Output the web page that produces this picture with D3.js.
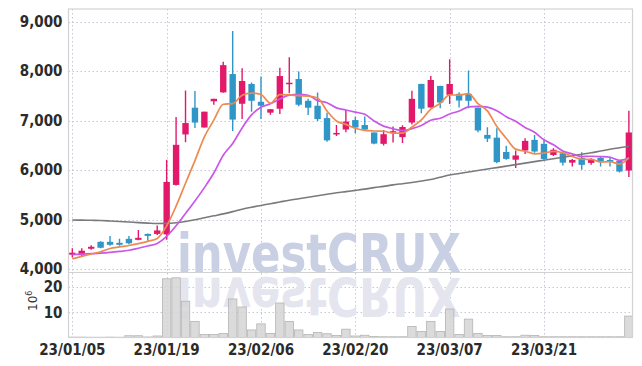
<!DOCTYPE html>
<html><head><meta charset="utf-8">
<script src="https://cdn.jsdelivr.net/npm/d3@7"></script>
<style>body{margin:0;background:#fff;} svg{display:block;}</style>
</head><body><svg id="c" width="642" height="366"></svg>
<script>
const dates = ["23/01/05","23/01/06","23/01/09","23/01/10","23/01/11","23/01/12","23/01/13","23/01/16","23/01/17","23/01/18",
"23/01/19","23/01/20","23/01/25","23/01/26","23/01/27","23/01/30","23/01/31","23/02/01","23/02/02","23/02/03",
"23/02/06","23/02/07","23/02/08","23/02/09","23/02/10","23/02/13","23/02/14","23/02/15","23/02/16","23/02/17",
"23/02/20","23/02/21","23/02/22","23/02/23","23/02/24","23/02/27","23/02/28","23/03/02","23/03/03","23/03/06",
"23/03/07","23/03/08","23/03/09","23/03/10","23/03/13","23/03/14","23/03/15","23/03/16","23/03/17","23/03/20",
"23/03/21","23/03/22","23/03/23","23/03/24","23/03/27","23/03/28","23/03/29","23/03/30","23/03/31","23/04/03"];
const openP = [4290,4280,4410,4550,4550,4530,4610,4590,4710,4710,4700,5700,6720,7260,6860,7390,7570,7940,7340,7740,
7380,7160,7240,7745,7840,7400,7300,7050,6720,6820,7010,6910,6760,6530,6755,6665,6960,7740,7265,7700,
7520,7540,7540,7260,6710,6655,6365,6210,6395,6610,6530,6305,6340,6150,6250,6145,6245,6205,6185,5990];
const highP = [4420,4420,4480,4560,4670,4610,4670,4790,4720,4880,6210,7070,7610,7600,7180,7440,8190,8810,8060,7770,
7890,7235,8070,8280,7990,7440,7570,7160,6910,7215,7080,7080,6760,6810,6880,6905,7605,7745,7900,7705,
8240,7575,8010,7265,6865,6845,6490,6395,6645,6710,6625,6440,6375,6225,6360,6240,6275,6270,6200,7200];
const lowP = [4240,4250,4390,4420,4470,4470,4500,4580,4570,4690,4590,5690,6560,6850,6860,7320,7560,6790,7030,7180,
7030,7120,7135,7550,7290,7115,6990,6570,6690,6765,6745,6810,6520,6495,6555,6545,6920,7150,7260,7250,
7335,7265,7250,6765,6565,6140,6210,6040,6325,6350,6205,6285,6090,6070,6005,6105,6070,6070,5950,5860];
const closeP = [4330,4370,4450,4430,4490,4490,4520,4630,4670,4780,5760,6510,6950,6960,7180,7440,8120,7020,7800,7400,
7300,7230,7900,7765,7320,7260,7030,6600,6750,6980,6860,6820,6535,6725,6785,6870,7440,7240,7820,7365,
7740,7405,7400,6800,6635,6160,6225,6295,6590,6375,6225,6410,6150,6205,6105,6205,6160,6165,5970,6760];
const volumeM = [0.15,0.15,0.1,0.1,0.15,0.1,0.7,0.7,0.2,0.6,23.3,23.7,14.4,6.4,1.2,1.2,1.6,15.3,12.1,3.0,
5.4,1.6,13.7,6.4,3.0,1.2,2.0,1.5,0.8,3.3,0.6,0.9,0.4,0.3,0.3,0.3,4.4,2.4,6.4,2.4,
11.3,1.2,7.3,1.6,0.8,0.8,0.3,0.3,0.9,0.8,0.3,0.3,0.3,0.3,0.3,0.3,0.3,0.3,0.3,8.5];
const ma5 = [4206,4256,4303,4350,4414,4446,4476,4512,4560,4618,4872,5270,5734,6192,6672,7008,7330,7344,7512,7556,
7528,7350,7526,7519,7503,7495,7455,7195,6992,6924,6844,6802,6789,6784,6745,6747,6871,7012,7231,7347,
7521,7514,7546,7342,7196,6880,6644,6423,6381,6329,6342,6379,6350,6273,6219,6215,6165,6168,6121,6252];
const ma10 = [4290,4300,4310,4320,4335,4355,4380,4420,4465,4516,4659,4873,5123,5376,5645,5940,6300,6539,6852,7114,
7268,7340,7435,7516,7530,7512,7403,7361,7256,7214,7170,7129,6992,6888,6835,6796,6837,6901,7008,7046,
7134,7193,7279,7287,7272,7201,7079,6985,6862,6763,6611,6512,6387,6327,6274,6279,6272,6259,6197,6236];
const ma60 = [4990,4988,4985,4980,4972,4962,4950,4938,4928,4920,4922,4935,4960,4995,5035,5075,5115,5160,5210,5250,
5285,5320,5355,5390,5420,5450,5480,5510,5540,5565,5590,5615,5645,5670,5700,5725,5750,5778,5810,5855,
5900,5930,5960,5990,6020,6050,6080,6110,6140,6170,6200,6230,6260,6290,6320,6350,6385,6420,6450,6480];
const priceTicks = [4000,5000,6000,7000,8000,9000];
const volumeTicks = [10,20];
const dateTicks = ["23/01/05","23/01/19","23/02/06","23/02/20","23/03/07","23/03/21"];

const rows = dates.map((d,i)=>({d, o:openP[i], h:highP[i], l:lowP[i], c:closeP[i], v:volumeM[i], m5:ma5[i], m10:ma10[i], m60:ma60[i]}));

const L = 68.5, R = 632.5, T = 9, MID = 272, B = 337.5;
const svg = d3.select("#c");
const x = d3.scaleBand().domain(dates).range([67.6, 633.6]).padding(0);
const cx = d => x(d) + x.bandwidth()/2;
const y = d3.scaleLinear().domain([3940, 9255]).range([MID, T]);
const yv = d3.scaleLinear().domain([0, 26]).range([B, MID]);

const defs = svg.append("defs");
defs.append("clipPath").attr("id","plot").append("rect").attr("x",L).attr("y",T).attr("width",R-L).attr("height",B-T);
defs.append("clipPath").attr("id","pp").append("rect").attr("x",L).attr("y",T).attr("width",R-L).attr("height",MID-T);
defs.append("clipPath").attr("id","vp").append("rect").attr("x",L).attr("y",MID).attr("width",R-L).attr("height",B-MID);

const fontF = "'Liberation Sans Narrow','DejaVu Sans Condensed','Roboto Condensed',sans-serif";
const gridC = "#c3c7d8";

// grid
const grid = svg.append("g").attr("stroke", gridC).attr("stroke-width",1).attr("stroke-dasharray","1.5,2.5");
grid.selectAll("line.hp").data(priceTicks).join("line").attr("x1",L).attr("x2",R)
  .attr("y1",d=>Math.round(y(d))+0.5).attr("y2",d=>Math.round(y(d))+0.5);
grid.selectAll("line.hv").data(volumeTicks).join("line").attr("x1",L).attr("x2",R)
  .attr("y1",d=>Math.round(yv(d))+0.5).attr("y2",d=>Math.round(yv(d))+0.5);
grid.selectAll("line.v").data(dateTicks).join("line").attr("x1",d=>Math.round(cx(d))+0.5).attr("x2",d=>Math.round(cx(d))+0.5)
  .attr("y1",T).attr("y2",B);

// watermark
const wm = svg.append("g").attr("clip-path","url(#plot)");
const wmFont = "'DejaVu Sans','Liberation Sans',Arial,sans-serif";
wm.append("text").attr("x",177).attr("y",272).attr("textLength",284).attr("lengthAdjust","spacingAndGlyphs")
  .attr("font-family",wmFont).attr("font-weight","bold").attr("font-size",54)
  .attr("fill","#c9d0e4").text("investCRUX");
wm.append("text").attr("x",177).attr("y",272).attr("textLength",284).attr("lengthAdjust","spacingAndGlyphs")
  .attr("font-family",wmFont).attr("font-weight","bold").attr("font-size",54)
  .attr("fill","#e4e5ee").attr("transform","translate(0,550) scale(1,-1)").text("investCRUX");

// volume bars
svg.append("g").attr("clip-path","url(#vp)").selectAll("rect").data(rows).join("rect")
  .attr("x",d=>x(d.d)+0.5).attr("width",x.bandwidth()-1)
  .attr("y",d=>yv(d.v)).attr("height",d=>B-yv(d.v))
  .attr("fill","#d5d5d5").attr("fill-opacity",0.85).attr("stroke","#b4b4b4").attr("stroke-width",0.8);

// candles
const up = "#e2196b", dn = "#3096c8";
const cg = svg.append("g").attr("clip-path","url(#pp)");
const cs = cg.selectAll("g").data(rows).join("g");
cs.append("line").attr("x1",d=>cx(d.d)).attr("x2",d=>cx(d.d)).attr("y1",d=>y(d.h)).attr("y2",d=>y(d.l))
  .attr("stroke",d=>d.c>=d.o?up:dn).attr("stroke-width",1.4);
const bw = 6.4;
cs.append("rect").attr("x",d=>cx(d.d)-bw/2).attr("width",bw)
  .attr("y",d=>y(Math.max(d.o,d.c))).attr("height",d=>Math.max(1.5, Math.abs(y(d.o)-y(d.c))))
  .attr("fill",d=>d.c>=d.o?up:dn);

// moving averages
const lineG = svg.append("g").attr("clip-path","url(#pp)").attr("fill","none");
const mk = key => d3.line().x(d=>cx(d.d)).y(d=>y(d[key])).curve(d3.curveMonotoneX);
lineG.append("path").datum(rows).attr("d",mk("m60")).attr("stroke","#7a7a7a").attr("stroke-width",1.6);
lineG.append("path").datum(rows).attr("d",mk("m10")).attr("stroke","#c957ea").attr("stroke-width",1.7);
lineG.append("path").datum(rows).attr("d",mk("m5")).attr("stroke","#ee8a50").attr("stroke-width",1.7);

// frame
const fr = svg.append("g").attr("stroke","#d2d2d2").attr("stroke-width",1.2).attr("fill","none");
fr.append("rect").attr("x",L).attr("y",T).attr("width",R-L).attr("height",B-T);
fr.append("line").attr("x1",L).attr("x2",R).attr("y1",MID+0.5).attr("y2",MID+0.5);

// axes
const ay = svg.append("g").attr("transform",`translate(${L},0)`)
  .call(d3.axisLeft(y).tickValues(priceTicks).tickFormat(d3.format(",")).tickSize(0).tickPadding(6));
const avy = svg.append("g").attr("transform",`translate(${L},0)`)
  .call(d3.axisLeft(yv).tickValues(volumeTicks).tickFormat(d3.format("d")).tickSize(0).tickPadding(6));
const ax = svg.append("g").attr("transform",`translate(0,${B})`)
  .call(d3.axisBottom(x).tickValues(dateTicks).tickSize(0).tickPadding(7));
[ay,avy,ax].forEach(g=>{
  g.select(".domain").remove();
  g.selectAll("text").attr("font-family",fontF).attr("font-weight","bold").attr("font-size",15).attr("fill","#2b2b2b");
});

// unit label 10^6
const ul = svg.append("text").attr("transform","translate(37,311) rotate(-90)")
  .attr("font-family","'DejaVu Sans',sans-serif").attr("font-size",12).attr("fill","#333");
ul.append("tspan").text("10");
ul.append("tspan").attr("dy",-5).attr("font-size",8).text("6");
</script></body></html>
